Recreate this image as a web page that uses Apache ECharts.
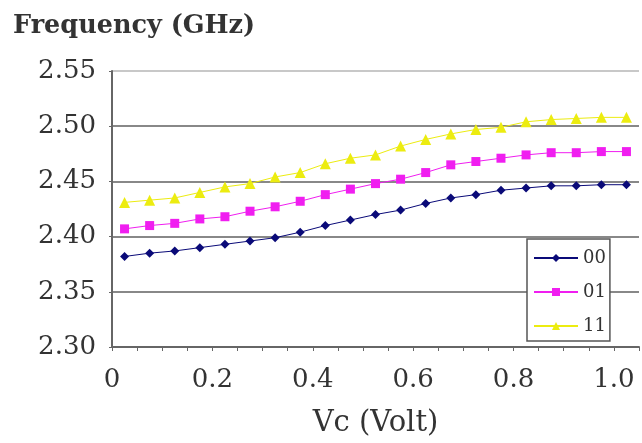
<!DOCTYPE html>
<html>
<head>
<meta charset="utf-8">
<script src="https://cdn.jsdelivr.net/npm/echarts@6/dist/echarts.min.js"></script>
<style>
  html, body { margin: 0; padding: 0; background: #fff; }
  #chart { width: 642px; height: 443px; }
</style>
</head>
<body>
<div id="chart"></div>
<script>
// Control voltage positions of the measured points (V)
const vc = [0.025, 0.075, 0.125, 0.175, 0.225, 0.275, 0.325, 0.375, 0.425, 0.475,
            0.525, 0.575, 0.625, 0.675, 0.725, 0.775, 0.825, 0.875, 0.925, 0.975, 1.025];

// Oscillation frequency (GHz) for each switch state
const f00 = [2.382, 2.385, 2.387, 2.390, 2.393, 2.396, 2.399, 2.404, 2.410, 2.415,
             2.420, 2.424, 2.430, 2.435, 2.438, 2.442, 2.444, 2.446, 2.446, 2.447, 2.447];
const f01 = [2.407, 2.410, 2.412, 2.416, 2.418, 2.423, 2.427, 2.432, 2.438, 2.443,
             2.448, 2.452, 2.458, 2.465, 2.468, 2.471, 2.474, 2.476, 2.476, 2.477, 2.477];
const f11 = [2.431, 2.433, 2.435, 2.440, 2.445, 2.448, 2.454, 2.458, 2.466, 2.471,
             2.474, 2.482, 2.488, 2.493, 2.497, 2.499, 2.504, 2.506, 2.507, 2.508, 2.508];

const seriesNames = ['00', '01', '11'];
const seriesColors = ['#0a0a78', '#f01ef0', '#ecec10'];
const seriesSymbols = ['diamond', 'rect', 'triangle'];
const seriesSymbolSizes = [9, 9, 11];
const yTicks = [2.30, 2.35, 2.40, 2.45, 2.50, 2.55];

const FONT = 'DejaVu Serif';

const pairs = arr => vc.map((x, i) => [x, arr[i]]);
const values = [f00, f01, f11];

const chart = echarts.init(document.getElementById('chart'), null, { renderer: 'canvas' });
chart.setOption({
  animation: false,
  backgroundColor: '#fff',
  title: {
    text: 'Frequency (GHz)',
    left: 8, top: 8,
    textStyle: { fontFamily: FONT, fontSize: 25.5, fontWeight: 'bold', color: '#333' }
  },
  grid: { left: 112, right: 0, top: 71, bottom: 89 },
  legend: {
    orient: 'vertical',
    left: 527, top: 239,
    width: 86, height: 98,
    backgroundColor: '#fff',
    borderColor: '#555', borderWidth: 1.5,
    padding: [10, 4, 6, 6],
    itemGap: 16,
    itemWidth: 44, itemHeight: 10,
    textStyle: { fontFamily: FONT, fontSize: 18, color: '#333' },
    data: seriesNames
  },
  xAxis: {
    type: 'value',
    min: 0, max: 1.05, interval: 0.05,
    name: 'Vc (Volt)',
    nameLocation: 'middle',
    nameGap: 62,
    nameTextStyle: { fontFamily: FONT, fontSize: 29, color: '#333' },
    axisLine: { lineStyle: { color: '#666', width: 2 } },
    axisTick: { length: 4, lineStyle: { color: '#666', width: 1 } },
    splitLine: { show: false },
    axisLabel: {
      margin: 20,
      fontFamily: FONT, fontSize: 26, color: '#333',
      formatter: v => {
        const k = Math.round(v * 100);
        if (k % 20 !== 0) return '';
        return k === 0 ? '0' : (k / 100).toFixed(1);
      }
    }
  },
  yAxis: {
    type: 'value',
    min: 2.30, max: 2.55, interval: 0.05,
    axisLine: { show: true, lineStyle: { color: '#666', width: 2 } },
    axisTick: { show: true, length: 3, lineStyle: { color: '#666' } },
    splitLine: {
      lineStyle: { color: ['#888', '#888', '#888', '#888', '#888', '#c8c8c8'], width: 2 }
    },
    axisLabel: {
      margin: 16,
      fontFamily: FONT, fontSize: 26, color: '#333',
      formatter: v => yTicks.find(t => Math.abs(t - v) < 1e-6).toFixed(2)
    }
  },
  series: seriesNames.map((name, i) => ({
    name,
    type: 'line',
    data: pairs(values[i]),
    symbol: seriesSymbols[i],
    symbolSize: seriesSymbolSizes[i],
    showSymbol: true,
    itemStyle: { color: seriesColors[i] },
    lineStyle: { color: seriesColors[i], width: 1 },
    z: 3 - i
  }))
});
</script>
</body>
</html>
